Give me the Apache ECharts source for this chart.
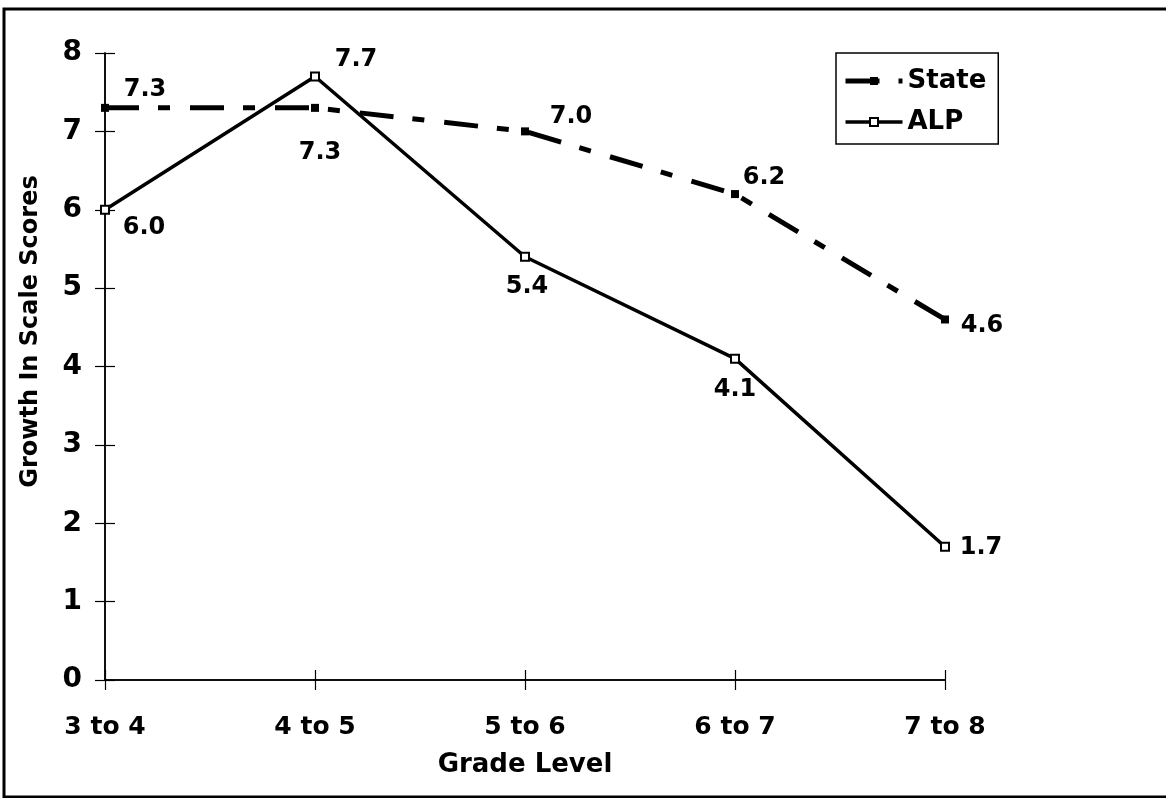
<!DOCTYPE html>
<html>
<head>
<meta charset="utf-8">
<script src="https://cdn.jsdelivr.net/npm/echarts@6/dist/echarts.min.js"></script>
<style>
html,body{margin:0;padding:0;background:#fff;}
#chart{width:1166px;height:798px;}
</style>
</head>
<body>
<div id="chart"></div>
<script>
const categories = ['3 to 4', '4 to 5', '5 to 6', '6 to 7', '7 to 8'];
const stateValues = [7.3, 7.3, 7.0, 6.2, 4.6];
const alpValues = [6.0, 7.7, 5.4, 4.1, 1.7];
const yTicks = [0, 1, 2, 3, 4, 5, 6, 7, 8];

// label offsets (pixels) relative to each point
const stateLabelOffsets = [[40, -18], [5, 45], [46, -15], [29, -16], [37, 6]];
const alpLabelOffsets = [[39, 18], [41, -17], [2, 30], [0, 31], [36, 1]];

const FONT = 'DejaVu Sans';
const labelFont = { fontFamily: FONT, fontWeight: 'bold', fontSize: 24, color: '#000' };

function withLabels(values, offsets) {
  return values.map((v, i) => ({
    value: v,
    label: { offset: offsets[i] }
  }));
}

const chart = echarts.init(document.getElementById('chart'), null, { renderer: 'canvas' });

const commonY = {
  type: 'value', min: yTicks[0], max: yTicks[yTicks.length - 1], interval: 1,
  splitLine: { show: false },
  axisLine: { show: true, lineStyle: { color: '#000', width: 1.5 } }
};
const commonX = {
  type: 'category', data: categories, boundaryGap: false,
  splitLine: { show: false },
  axisLine: { show: true, lineStyle: { color: '#000', width: 1.5 } }
};

const stateLine = { color: '#000', width: 5, type: [34, 19, 12, 20] };
const alpLine = { color: '#000', width: 3.5 };

chart.setOption({
  backgroundColor: '#fff',
  animation: false,
  grid: { left: 105, right: 221, top: 53, bottom: 118, containLabel: false },
  graphic: [
    { type: 'rect', shape: { x: 4, y: 9, width: 1300, height: 788 }, style: { fill: 'none', stroke: '#000', lineWidth: 3 }, silent: true, z: 100 }
  ],
  legend: {
    orient: 'vertical',
    left: 836, top: 53,
    padding: [14, 12, 8, 7],
    itemGap: 13,
    itemWidth: 57, itemHeight: 10,
    borderColor: '#000', borderWidth: 1.5,
    backgroundColor: '#fff',
    textStyle: { fontFamily: FONT, fontWeight: 'bold', fontSize: 26, color: '#000', lineHeight: 28 },
    data: [
      { name: 'State', lineStyle: stateLine, itemStyle: { color: '#000' } },
      { name: 'ALP', lineStyle: alpLine, itemStyle: { color: '#fff', borderColor: '#000', borderWidth: 2 } }
    ]
  },
  xAxis: [
    Object.assign({}, commonX, {
      axisTick: { show: true, inside: false, length: 10, lineStyle: { color: '#000', width: 1.2 } },
      axisLabel: { margin: 35, fontFamily: FONT, fontWeight: 'bold', fontSize: 25, color: '#000' },
      name: 'Grade Level', nameLocation: 'middle', nameGap: 72,
      nameTextStyle: { fontFamily: FONT, fontWeight: 'bold', fontSize: 26, color: '#000' }
    }),
    Object.assign({}, commonX, {
      position: 'bottom',
      axisTick: { show: true, inside: true, length: 10, lineStyle: { color: '#000', width: 1.2 } },
      axisLabel: { show: false }
    })
  ],
  yAxis: [
    Object.assign({}, commonY, {
      axisTick: { show: true, inside: false, length: 10, lineStyle: { color: '#000', width: 1.2 } },
      axisLabel: { margin: 23, fontFamily: FONT, fontWeight: 'bold', fontSize: 28, color: '#000' },
      name: 'Growth In Scale Scores', nameLocation: 'middle', nameGap: 62, nameRotate: 90,
      nameTextStyle: { fontFamily: FONT, fontWeight: 'bold', fontSize: 24, color: '#000', padding: [0, 0, 0, 70] }
    }),
    Object.assign({}, commonY, {
      position: 'left',
      axisTick: { show: true, inside: true, length: 10, lineStyle: { color: '#000', width: 1.2 } },
      axisLabel: { show: false }
    })
  ],
  series: [
    {
      name: 'State', type: 'line', xAxisIndex: 0, yAxisIndex: 0,
      data: withLabels(stateValues, stateLabelOffsets),
      symbol: 'rect', symbolSize: 8,
      itemStyle: { color: '#000' },
      lineStyle: stateLine,
      label: Object.assign({ show: true, position: 'inside', align: 'center', verticalAlign: 'middle',
        formatter: p => p.value.toFixed(1) }, labelFont),
      z: 3
    },
    {
      name: 'ALP', type: 'line', xAxisIndex: 0, yAxisIndex: 0,
      data: withLabels(alpValues, alpLabelOffsets),
      symbol: 'rect', symbolSize: 8,
      itemStyle: { color: '#fff', borderColor: '#000', borderWidth: 2 },
      lineStyle: alpLine,
      label: Object.assign({ show: true, position: 'inside', align: 'center', verticalAlign: 'middle',
        formatter: p => p.value.toFixed(1) }, labelFont),
      z: 4
    }
  ]
});
</script>
</body>
</html>
